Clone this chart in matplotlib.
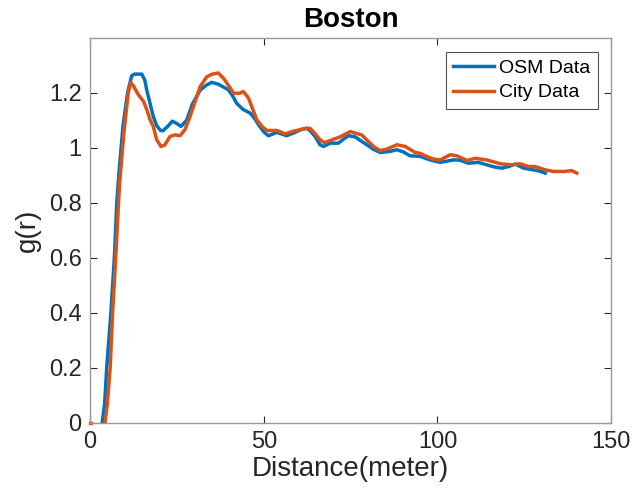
import numpy as np
import matplotlib
matplotlib.use("Agg")
import matplotlib.pyplot as plt

# values (distance in meter, g(r))
osm_x = [3.5, 4.2, 4.8, 6.0, 7.0, 7.7, 8.4, 9.5, 10.8, 12.0, 12.8, 14.9, 15.8, 16.3, 17.3,
         18.2, 19.2, 20.3, 21.0, 22.5, 23.7, 25.0, 26.2, 27.8, 29.5, 31.7, 33.5, 35.0,
         36.8, 38.4, 39.8, 41.0, 42.2, 44.0, 46.1, 47.3, 48.5, 50.0, 51.3, 53.8, 56.6,
         59.0, 61.0, 62.4, 63.5, 64.8, 66.2, 67.2, 69.1, 71.5, 73.0, 74.4, 76.3, 78.0,
         79.7, 81.5, 83.5, 86.4, 88.3, 90.2, 92.1, 95.0, 97.9, 100.8, 104.6, 106.5,
         108.9, 111.8, 114.2, 116.5, 118.5, 120.5, 122.4, 124.8, 127.6, 129.5, 131.0]
osm_y = [0.0, 0.07, 0.2, 0.4, 0.6, 0.8, 0.92, 1.08, 1.2, 1.262, 1.268, 1.268, 1.245, 1.211, 1.16,
         1.114, 1.08, 1.063, 1.062, 1.08, 1.097, 1.088, 1.078, 1.1, 1.16, 1.21, 1.228, 1.238,
         1.232, 1.221, 1.211, 1.19, 1.162, 1.14, 1.126, 1.108, 1.084, 1.058, 1.044, 1.056, 1.044,
         1.056, 1.068, 1.071, 1.06, 1.041, 1.011, 1.005, 1.017, 1.017, 1.032, 1.044, 1.04, 1.025,
         1.011, 0.995, 0.983, 0.987, 0.993, 0.985, 0.971, 0.969, 0.956, 0.947, 0.956, 0.955,
         0.944, 0.947, 0.938, 0.93, 0.926, 0.932, 0.941, 0.926, 0.92, 0.915, 0.908]

city_x = [4.3, 5.0, 5.8, 6.5, 7.4, 8.2, 8.6, 9.8, 11.0, 11.7, 12.5, 13.9, 14.4, 15.4, 16.3,
          17.3, 18.2, 19.2, 20.4, 21.5, 23.0, 24.5, 25.9, 27.3, 28.8, 30.3, 31.7, 33.6,
          35.2, 36.9, 38.4, 39.4, 41.3, 43.0, 44.1, 45.6, 48.0, 49.5, 50.9, 53.8, 56.1,
          59.0, 62.4, 63.3, 64.8, 66.2, 67.5, 70.1, 72.0, 74.9, 78.2, 80.1, 81.8, 83.5,
          85.4, 88.3, 90.7, 93.6, 95.0, 97.0, 98.9, 100.8, 103.7, 105.6, 108.5, 110.9,
          114.2, 118.1, 121.4, 123.8, 126.2, 128.1, 131.0, 133.4, 136.3, 138.7, 140.1]
city_y = [0.0, 0.07, 0.2, 0.4, 0.6, 0.8, 0.884, 1.06, 1.2, 1.238, 1.225, 1.193, 1.185, 1.169, 1.14,
          1.102, 1.078, 1.029, 1.005, 1.01, 1.041, 1.047, 1.044, 1.065, 1.114, 1.17, 1.223, 1.258,
          1.268, 1.272, 1.253, 1.235, 1.199, 1.198, 1.205, 1.181, 1.102, 1.078, 1.063, 1.063, 1.051,
          1.062, 1.071, 1.071, 1.051, 1.029, 1.019, 1.031, 1.04, 1.059, 1.047, 1.023, 1.003, 0.99,
          0.995, 1.011, 1.005, 0.983, 0.98, 0.968, 0.959, 0.956, 0.975, 0.971, 0.954, 0.962,
          0.956, 0.942, 0.938, 0.942, 0.932, 0.932, 0.92, 0.914, 0.914, 0.917, 0.908]

plt.rcParams["font.family"] = ["Liberation Sans", "DejaVu Sans"]

fig = plt.figure(figsize=(6.34, 5.04), dpi=100)
ax = fig.add_axes([0.142, 0.161, 0.822, 0.764])

blue = "#0072BD"
orange = "#D95319"

ax.plot(osm_x, osm_y, color=blue, lw=2.5, label="OSM Data", solid_joinstyle="round")
ax.plot(city_x, city_y, color=orange, lw=2.5, label="City Data", solid_joinstyle="round")
# isolated first point of the city series at the origin
ax.plot([0, 0.4], [0, 0], color=orange, lw=2.5, clip_on=False)

ax.set_xlim(0, 150)
ax.set_ylim(0, 1.4)
ax.set_xticks([0, 50, 100, 150])
ax.set_yticks([0, 0.2, 0.4, 0.6, 0.8, 1.0, 1.2])
ax.set_yticklabels(["0", "0.2", "0.4", "0.6", "0.8", "1", "1.2"])

for s in ax.spines.values():
    s.set_color("#999999")
    s.set_linewidth(1.0)
ax.tick_params(direction="in", top=True, right=True, length=5, width=0.8,
               color="#262626", labelsize=17, labelcolor="#262626", pad=6)

ax.set_xlabel("Distance(meter)", fontsize=20, color="#262626", labelpad=2)
ax.set_ylabel("g(r)", fontsize=20, color="#262626", labelpad=6)
ax.set_title("Boston", fontsize=20, fontweight="bold", pad=8)

leg = ax.legend(loc="upper right", bbox_to_anchor=(0.975, 0.964), fontsize=14,
                frameon=True, fancybox=False, handlelength=2.1, handletextpad=0.25,
                borderpad=0.4, labelspacing=0.35, borderaxespad=0)
leg.get_frame().set_edgecolor("#262626")
leg.get_frame().set_linewidth(0.8)

fig.savefig("out.png", dpi=100)
